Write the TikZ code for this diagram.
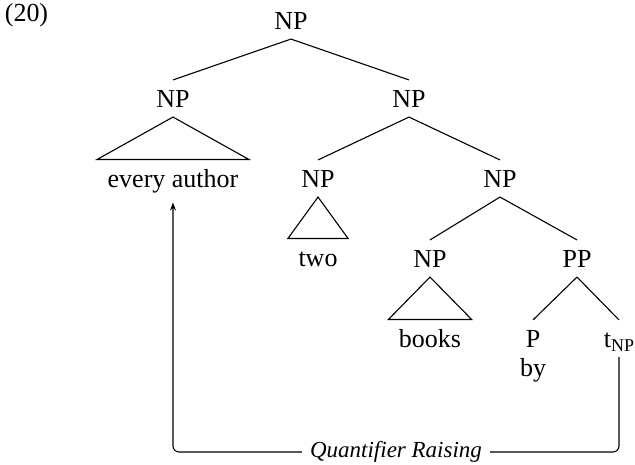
\documentclass[tikz,border=0pt]{standalone}
\usepackage{fontspec}
\setmainfont{Liberation Serif}
\usetikzlibrary{arrows.meta}
\begin{document}
\begin{tikzpicture}[x=1pt,y=-1pt, line width=1.1pt,
  cat/.style={anchor=base, inner xsep=2pt, inner ysep=9.5pt, text height=17pt, text depth=0pt, font=\fontsize{26}{30}\selectfont},
  leaf/.style={anchor=base, inner xsep=10pt, inner ysep=9pt, text height=18pt, text depth=6pt, font=\fontsize{26}{30}\selectfont},
  word/.style={anchor=base, inner sep=0pt, font=\fontsize{26}{30}\selectfont},
  edge/.style={line width=1.1pt},
  qr/.style={fill=white, inner xsep=8pt, inner ysep=2pt, font=\fontsize{23}{26}\selectfont\itshape}]
\useasboundingbox (0,0) rectangle (635,464);
\node[word] (ex) at (26.5,21) {(20)};
\node[cat] (np0) at (291,29) {NP};
\node[cat] (np1) at (173,107) {NP};
\node[cat] (np2) at (409,107) {NP};
\node[leaf] (ea) at (173,187) {every author};
\node[cat] (np3) at (318,187) {NP};
\node[cat] (np4) at (500,187) {NP};
\node[leaf] (two) at (318,266) {two};
\node[cat] (np5) at (430,267) {NP};
\node[cat] (pp) at (577,267) {PP};
\node[leaf] (books) at (430,347) {books};
\node[cat] (p) at (533,347) {P};
\node[word] (by) at (533,376) {by};
\node[cat] (t) at (619,347) {t\raisebox{-4pt}{\fontsize{18}{20}\selectfont NP}};
\coordinate (low) at (0,452);
% branches
\draw[edge] (np0.south) -- (np1.north);
\draw[edge] (np0.south) -- (np2.north);
\draw[edge] (np2.south) -- (np3.north);
\draw[edge] (np2.south) -- (np4.north);
\draw[edge] (np4.south) -- (np5.north);
\draw[edge] (np4.south) -- (pp.north);
\draw[edge] (pp.south) -- (p.north);
\draw[edge] (pp.south) -- (t.north);
% triangles
\draw[edge] (np1.south) -- (ea.north west) -- (ea.north east) -- cycle;
\draw[edge] (np3.south) -- (two.north west) -- (two.north east) -- cycle;
\draw[edge] (np5.south) -- (books.north west) -- (books.north east) -- cycle;
% movement arrow
\draw[edge, rounded corners=6pt, -{Stealth[length=8pt,width=6pt]}]
  (t.south) -- (t.south |- low) -- node[qr] {Quantifier Raising} (ea.south |- low) -- (ea.south);
\end{tikzpicture}
\end{document}
